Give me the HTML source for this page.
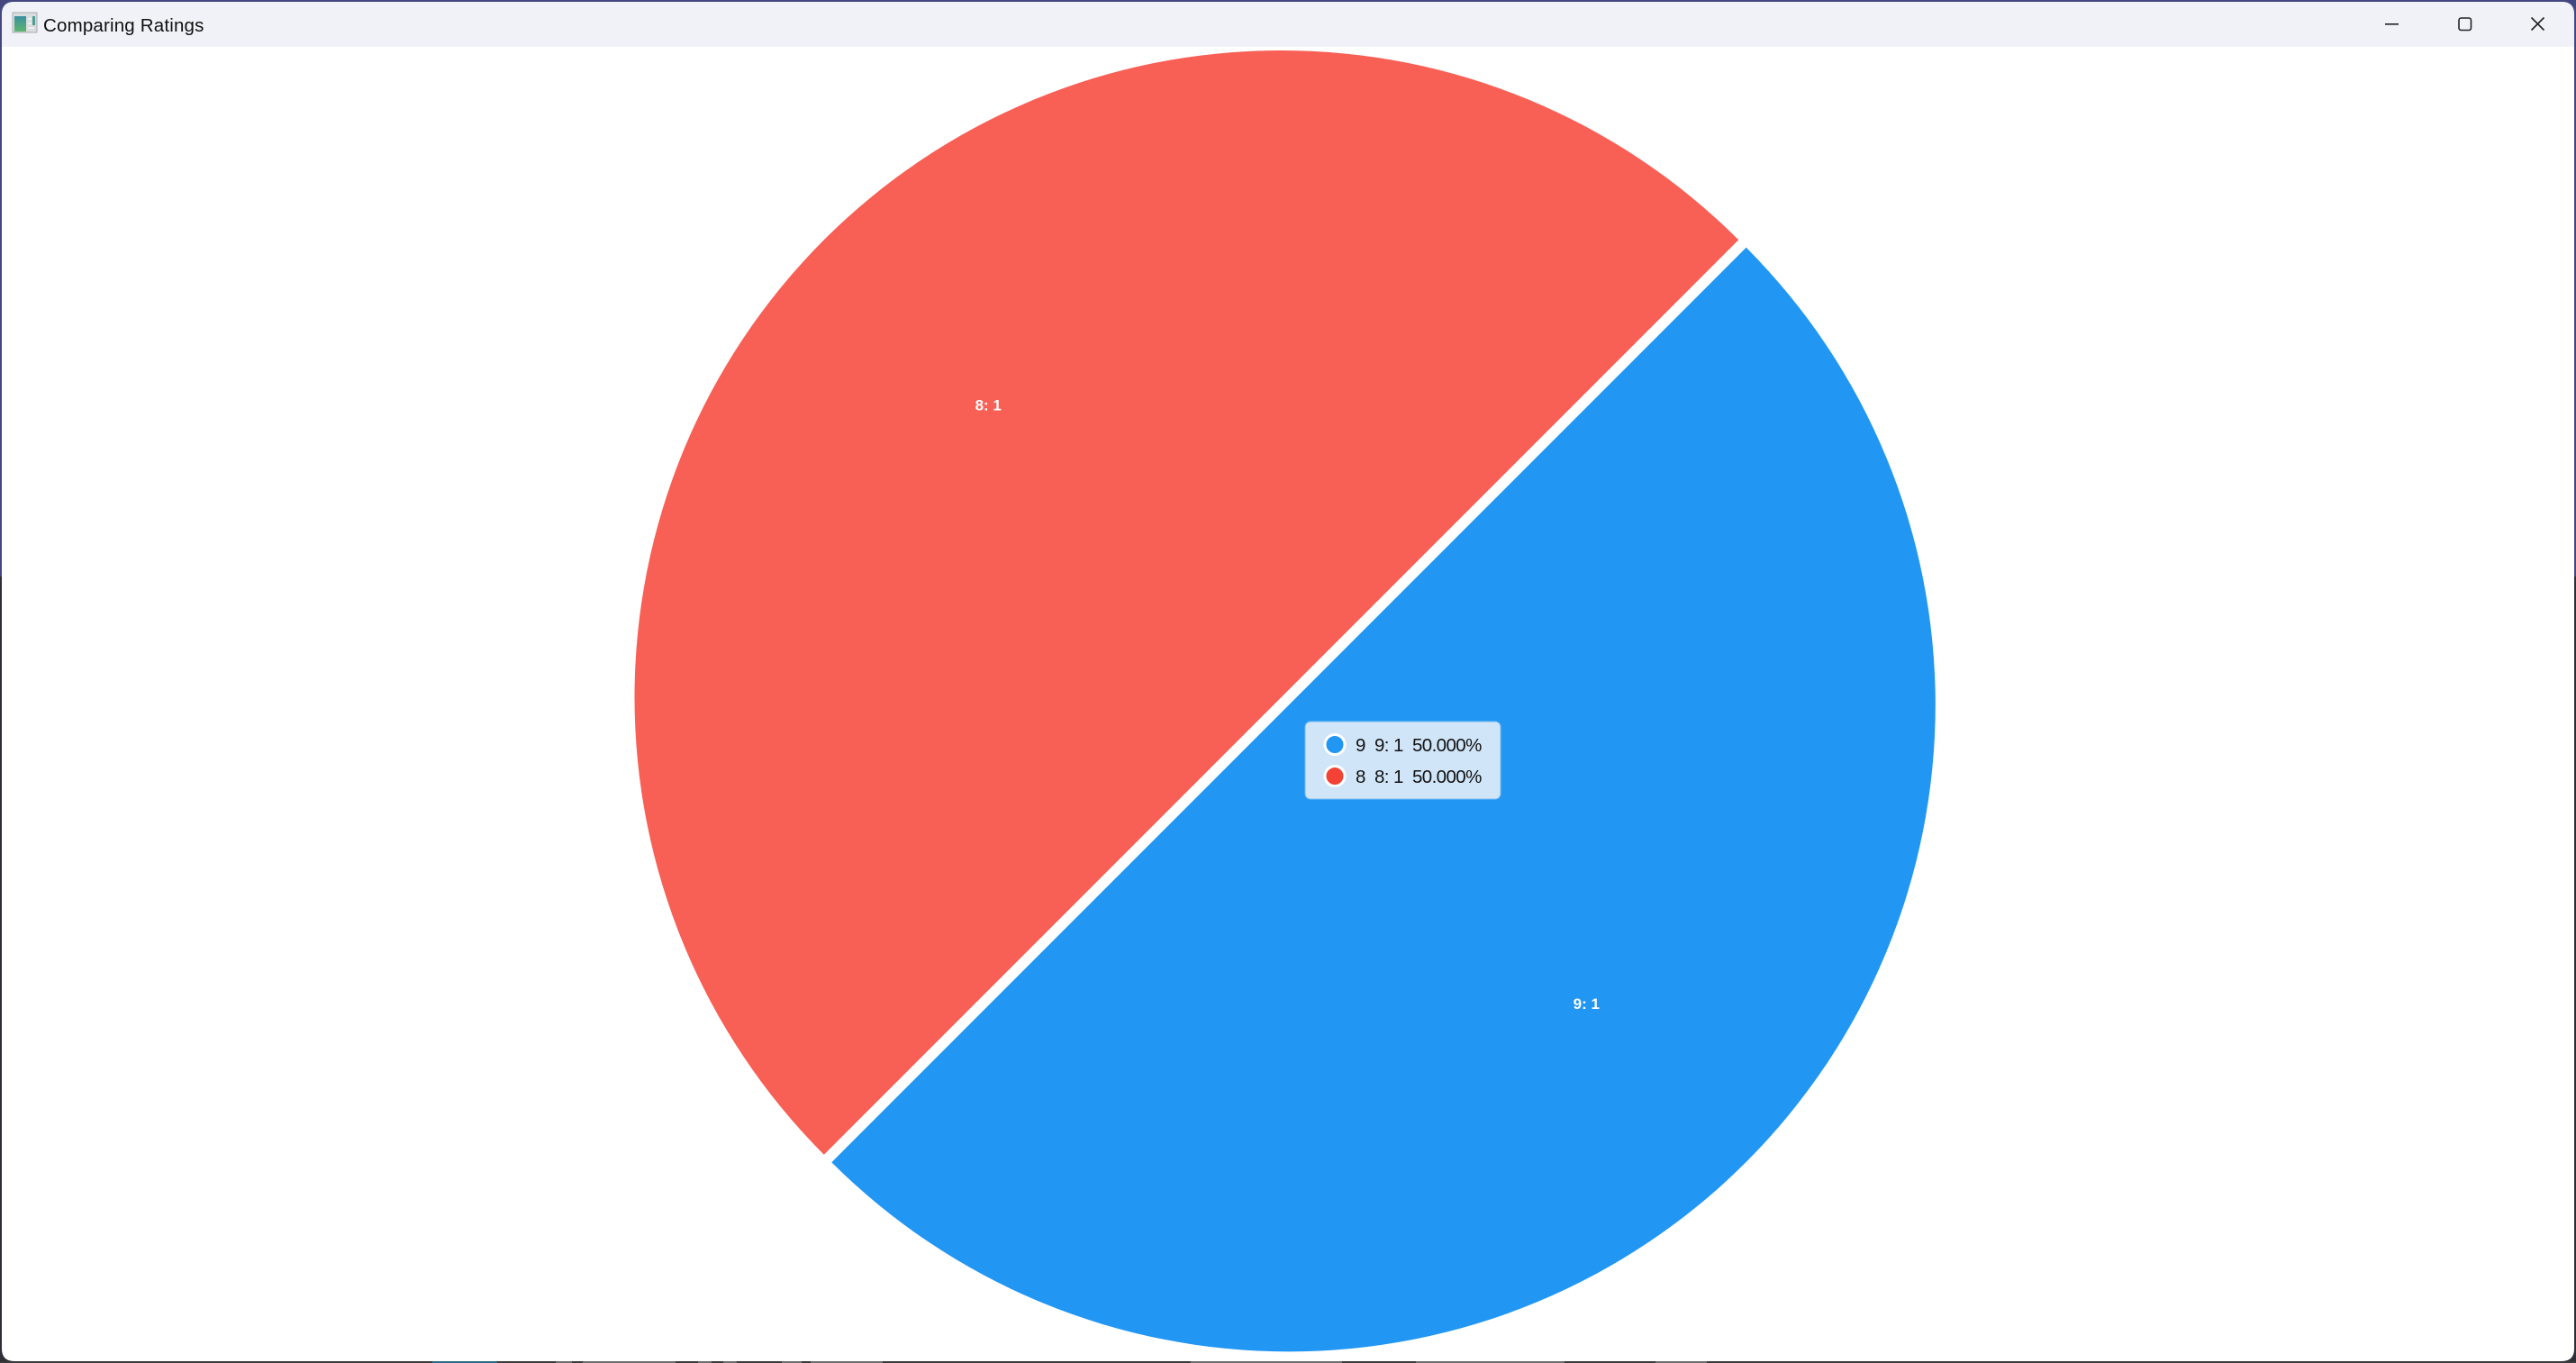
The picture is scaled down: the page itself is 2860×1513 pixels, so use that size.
<!DOCTYPE html>
<html lang="en">
<head>
<meta charset="utf-8">
<title>Comparing Ratings</title>
<style>
html,body{margin:0;padding:0;background:#2b2b33;width:2860px;height:1513px;overflow:hidden}
#win{position:absolute;left:0;top:0;width:2860px;height:1513px;overflow:hidden;background:#2e2e36}
svg{position:absolute;left:0;top:0;display:block}
text{font-family:"Liberation Sans","DejaVu Sans",sans-serif}
</style>
</head>
<body>
<div id="win">
<svg id="stage" width="2860" height="1513" viewBox="0 0 2860 1513" xmlns="http://www.w3.org/2000/svg">
  <defs>
    <linearGradient id="iconFill" x1="0" y1="0" x2="0" y2="1">
      <stop offset="0" stop-color="#3a8fa0"/>
      <stop offset="1" stop-color="#5db56f"/>
    </linearGradient>
  </defs>
  <!-- outer border: dark blue along top and upper sides, charcoal at the bottom -->
  <rect x="0" y="0" width="2860" height="640" fill="#44477f"/>
  <rect x="0" y="1511" width="2860" height="2" fill="#3a3a3a"/>
  <g fill="#6e6e6e">
    <rect x="480" y="1511" width="72" height="2" fill="#2f6b85"/>
    <rect x="617" y="1511" width="18" height="2"/>
    <rect x="647" y="1511" width="103" height="2"/>
    <rect x="775" y="1511" width="15" height="2"/>
    <rect x="803" y="1511" width="15" height="2"/>
    <rect x="868" y="1511" width="22" height="2"/>
    <rect x="900" y="1511" width="80" height="2"/>
    <rect x="1322" y="1511" width="168" height="2"/>
    <rect x="1572" y="1511" width="165" height="2"/>
    <rect x="1838" y="1511" width="57" height="2"/>
  </g>
  <!-- window body -->
  <path d="M16,2 H2844 Q2858,2 2858,16 V1497 Q2858,1511 2844,1511 H16 Q2,1511 2,1497 V16 Q2,2 16,2 Z" fill="#ffffff"/>
  <!-- title bar -->
  <path d="M16,2 H2844 Q2858,2 2858,16 V52 H2 V16 Q2,2 16,2 Z" fill="#f0f2f8"/>
  <g>
    <rect x="14" y="14" width="27" height="22" fill="#d9dcdc" stroke="#a9adb0" stroke-width="1"/>
    <rect x="16" y="18" width="13" height="17" fill="url(#iconFill)"/>
    <rect x="36" y="18" width="3" height="10" fill="#4c9d92"/>
    <rect x="31" y="20" width="4" height="2" fill="#eef0f0"/>
    <rect x="31" y="25" width="4" height="2" fill="#eef0f0"/>
    <rect x="31" y="30" width="7" height="2" fill="#eef0f0"/>
  </g>
  <text x="48" y="35" font-size="20.5" letter-spacing="0.18" fill="#111">Comparing Ratings</text>
  <rect x="2648" y="26" width="15" height="1.6" fill="#222"/>
  <rect x="2730" y="20" width="13.5" height="13.5" rx="2.5" fill="none" stroke="#222" stroke-width="1.6"/>
  <path d="M2810.5,19.5 L2824.5,33.5 M2824.5,19.5 L2810.5,33.5" stroke="#222" stroke-width="1.6" fill="none"/>

  <g id="pie"></g>
  <g id="legend"></g>
</svg>
</div>
<script>
const categories = ['9', '8'];
const values = [1, 1];
const sliceColors = ['#2196f3', '#f85f55'];
const legendColors = ['#2196f3', '#f44336'];
const SVGNS = 'http://www.w3.org/2000/svg';
const centerX = 1426.75, centerY = 778.25, radius = 718, explode = 6, startDeg = -45, labelRatio = 0.6456;
const labelDx = 2.5, labelDy = 9.5;
const legendX = 1449, legendY = 801, legendW = 217, rowH = 35, legendPad = 8;
const total = values.reduce(function (a, b) { return a + b; }, 0);
function angleOf(v) { return v / total * Math.PI * 2; }
function pct(v) { return (v / total * 100).toFixed(3) + '%'; }
function make(tag, attrs) {
  const el = document.createElementNS(SVGNS, tag);
  Object.keys(attrs).forEach(function (k) { el.setAttribute(k, attrs[k]); });
  return el;
}
const pie = document.getElementById('pie');
const legend = document.getElementById('legend');
let cursor = startDeg * Math.PI / 180;
values.forEach(function (v, i) {
  const a0 = cursor, a1 = cursor + angleOf(v), mid = (a0 + a1) / 2;
  cursor = a1;
  const cx = centerX + explode * Math.cos(mid), cy = centerY + explode * Math.sin(mid);
  const large = (a1 - a0) > Math.PI ? 1 : 0;
  const d = 'M' + cx + ',' + cy +
    ' L' + (cx + radius * Math.cos(a0)) + ',' + (cy + radius * Math.sin(a0)) +
    ' A' + radius + ',' + radius + ' 0 ' + large + ' 1 ' + (cx + radius * Math.cos(a1)) + ',' + (cy + radius * Math.sin(a1)) + ' Z';
  const slice = make('path', { d: d, fill: sliceColors[i] });
  
  
  pie.appendChild(slice);
  const label = make('text', {
    x: cx + radius * labelRatio * Math.cos(mid) + labelDx,
    y: cy + radius * labelRatio * Math.sin(mid) + labelDy,
    'text-anchor': 'middle', 'font-size': '17', 'font-weight': '700', fill: '#ffffff'
  });
  label.textContent = categories[i] + ': ' + v;
  
  
  pie.appendChild(label);
});
const box = make('rect', {
  x: legendX, y: legendY, width: legendW, height: legendPad * 2 + rowH * categories.length,
  rx: 6, fill: '#d0e5f8', stroke: '#7fbdf0', 'stroke-width': 1
});


legend.appendChild(box);
categories.forEach(function (c, i) {
  const y = legendY + legendPad + rowH * i + rowH / 2;
  const dot = make('circle', { cx: legendX + 33, cy: y, r: 11, fill: legendColors[i], stroke: '#ffffff', 'stroke-width': 3 });
  
  
  legend.appendChild(dot);
  const t = make('text', { x: legendX + 56, y: y + 7.5, 'font-size': '20.5', 'letter-spacing': '-0.6', fill: '#111' });
  t.textContent = c + '\u00a0\u00a0' + c + ':\u00a0' + values[i] + '\u00a0\u00a0' + pct(values[i]);
  
  
  legend.appendChild(t);
});
</script>
</body>
</html>
